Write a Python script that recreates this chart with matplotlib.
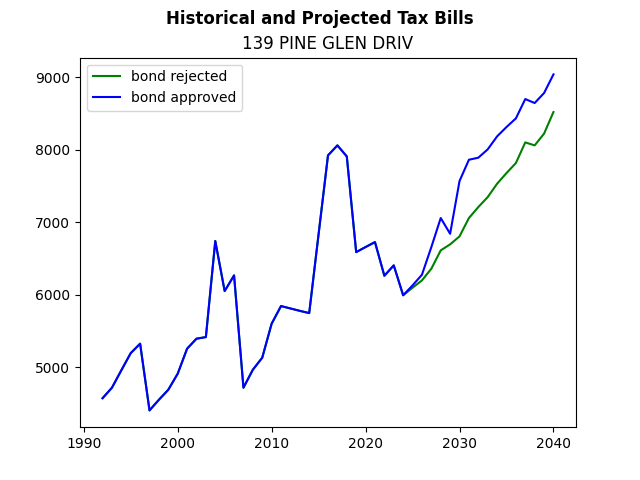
import matplotlib
matplotlib.use("Agg")
import matplotlib.pyplot as plt

years_hist = list(range(1992, 2025))
hist = [4575, 4720, 4960, 5197, 5327, 4407, 4554, 4692, 4913, 5258, 5396, 5418,
        6743, 6053, 6269, 4720, 4968, 5134, 5603, 5846, 5813, 5780, 5749, 6840,
        7924, 8062, 7910, 6590, 6660, 6728, 6264, 6407, 5995]
years_proj = list(range(2025, 2041))
rejected_proj = [6099, 6200, 6361, 6614, 6697, 6807, 7060, 7211, 7349, 7533,
                 7680, 7818, 8103, 8062, 8224, 8522]
approved_proj = [6131, 6278, 6659, 7060, 6843, 7570, 7864, 7892, 8007, 8186,
                 8315, 8434, 8701, 8646, 8784, 9041]

years = years_hist + years_proj
rejected = hist + rejected_proj
approved = hist + approved_proj

fig, ax = plt.subplots(figsize=(6.4, 4.8), dpi=100)
ax.plot(years, rejected, color="green", label="bond rejected")
ax.plot(years, approved, color="blue", label="bond approved")
ax.set_title("139 PINE GLEN DRIV")
fig.suptitle("Historical and Projected Tax Bills", fontweight="bold")
ax.legend(loc="upper left")
fig.savefig("out.png")
